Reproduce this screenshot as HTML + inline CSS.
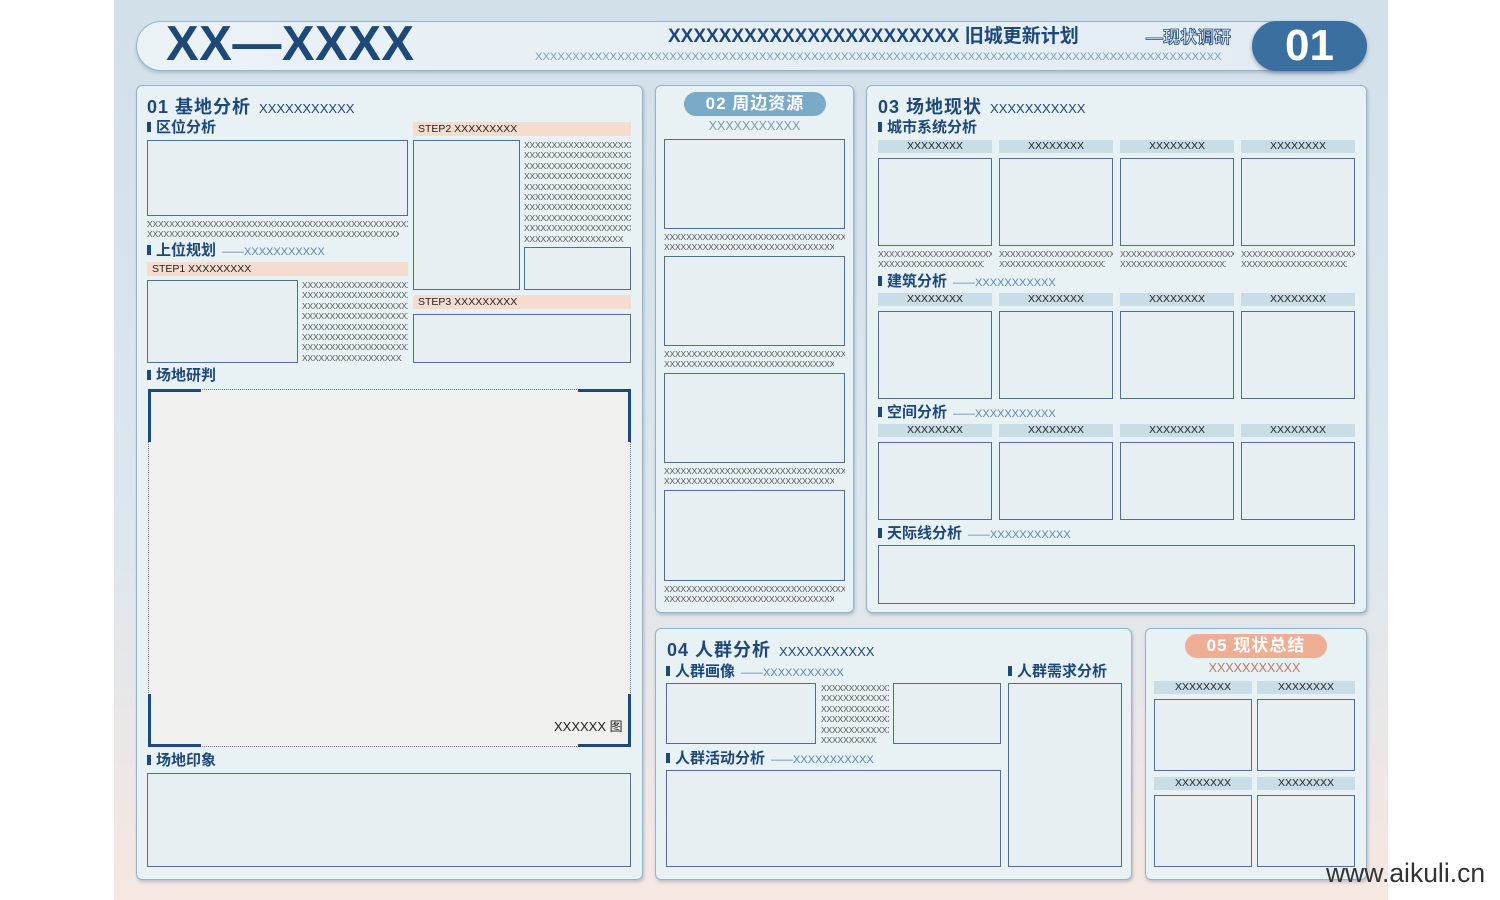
<!DOCTYPE html>
<html><head><meta charset="utf-8">
<style>
*{margin:0;padding:0;box-sizing:border-box}
body{width:1500px;height:900px;background:#fff;position:relative;overflow:hidden;font-family:"Liberation Sans","Noto Sans CJK SC",sans-serif}
.a{position:absolute}
.bg{left:114px;top:0;width:1274px;height:900px;background:linear-gradient(#d2e0ea,#dde7ee 60%,#f6e7e1)}
.p{position:absolute;background:#e8f1f4;border:1.5px solid #93b4c8;border-radius:6px;box-shadow:1px 2px 3px rgba(80,110,140,.35)}
.b{position:absolute;background:#e7eff3;border:1.3px solid #4f6f8d}
.h{position:absolute;font-weight:bold;color:#1e4878;font-size:15px;white-space:nowrap;line-height:16px}
.h:before{content:"";display:inline-block;width:4px;height:10px;background:#1e4878;margin-right:5px;vertical-align:0px}
.h span{font-weight:normal;color:#5a86b0;font-size:11px;margin-left:6px}
.st{position:absolute;background:#f6dccf;font-size:10.5px;color:#222;line-height:14px;padding-left:5px;white-space:nowrap}
.t{position:absolute;font-size:8.5px;line-height:10.4px;color:#555;overflow:hidden;white-space:nowrap;letter-spacing:-.15px}
.t div{overflow:hidden}
.ch{position:absolute;background:#c9dde6;font-size:10.5px;line-height:13px;text-align:center;color:#222}
.tt{position:absolute;font-weight:bold;color:#1e4878;font-size:18px;white-space:nowrap;letter-spacing:1px}
.tt span{font-weight:normal;font-size:13px;margin-left:8px;letter-spacing:0}
</style></head><body>
<div class="a bg"></div>

<!-- header -->
<div class="a" style="left:136px;top:21px;width:1200px;height:50px;background:linear-gradient(90deg,#eaf2f6,#e2ecf2);border:1.5px solid #93b4c8;border-radius:25px 0 0 25px;box-shadow:0 2px 3px rgba(80,110,140,.3)"></div>
<div class="a" style="left:166px;top:14px;font-size:49px;font-weight:bold;color:#1e4878;line-height:60px;letter-spacing:0.5px">XX—XXXX</div>
<div class="a" style="left:668px;top:26px;font-size:19px;font-weight:bold;color:#1e4878;white-space:nowrap;line-height:22px">XXXXXXXXXXXXXXXXXXXXXXX 旧城更新计划</div>
<div class="a" style="left:1146px;top:27px;font-size:17px;color:#e8f1f4;-webkit-text-stroke:0.8px #1e4878;font-weight:bold;white-space:nowrap;line-height:22px">—现状调研</div>
<div class="a" style="left:535px;top:50px;width:700px;overflow:hidden;font-size:11.2px;color:#7aa0bc;white-space:nowrap;line-height:14px">XXXXXXXXXXXXXXXXXXXXXXXXXXXXXXXXXXXXXXXXXXXXXXXXXXXXXXXXXXXXXXXXXXXXXXXXXXXXXXXXXXXXXXXXXXXX</div>
<div class="a" style="left:1252px;top:21px;width:115px;height:50px;background:#3a6fa0;border-radius:25px;box-shadow:0 2px 4px rgba(30,60,100,.4);color:#fff;font-size:44px;font-weight:bold;text-align:center;line-height:50px">01</div>

<!-- panel 1 -->
<div class="p" style="left:136px;top:85px;width:507px;height:795px"></div>
<div class="tt" style="left:147px;top:93px">01 基地分析<span>XXXXXXXXXXX</span></div>
<div class="h" style="left:147px;top:120px">区位分析</div>
<div class="b" style="left:147px;top:140px;width:261px;height:76px"></div>
<div class="t" style="left:147px;top:219px;width:261px"><div>XXXXXXXXXXXXXXXXXXXXXXXXXXXXXXXXXXXXXXXXXXXXXXXXXXXXX</div><div style="width:252px">XXXXXXXXXXXXXXXXXXXXXXXXXXXXXXXXXXXXXXXXXXXXXXXXXX</div></div>
<div class="h" style="left:147px;top:243px">上位规划<span>——XXXXXXXXXXX</span></div>
<div class="st" style="left:147px;top:262px;width:261px">STEP1 XXXXXXXXX</div>
<div class="b" style="left:147px;top:280px;width:151px;height:83px"></div>
<div class="t" style="left:302px;top:280px;width:106px"><div>XXXXXXXXXXXXXXXXXXXXXX</div><div>XXXXXXXXXXXXXXXXXXXXXX</div><div>XXXXXXXXXXXXXXXXXXXXXX</div><div>XXXXXXXXXXXXXXXXXXXXXX</div><div>XXXXXXXXXXXXXXXXXXXXXX</div><div>XXXXXXXXXXXXXXXXXXXXXX</div><div>XXXXXXXXXXXXXXXXXXXXXX</div><div style="width:100px">XXXXXXXXXXXXXXXXXXXXXX</div></div>
<div class="st" style="left:413px;top:122px;width:218px">STEP2 XXXXXXXXX</div>
<div class="b" style="left:413px;top:140px;width:107px;height:150px"></div>
<div class="t" style="left:524px;top:140px;width:107px"><div>XXXXXXXXXXXXXXXXXXXXXX</div><div>XXXXXXXXXXXXXXXXXXXXXX</div><div>XXXXXXXXXXXXXXXXXXXXXX</div><div>XXXXXXXXXXXXXXXXXXXXXX</div><div>XXXXXXXXXXXXXXXXXXXXXX</div><div>XXXXXXXXXXXXXXXXXXXXXX</div><div>XXXXXXXXXXXXXXXXXXXXXX</div><div>XXXXXXXXXXXXXXXXXXXXXX</div><div>XXXXXXXXXXXXXXXXXXXXXX</div><div style="width:100px">XXXXXXXXXXXXXXXXXXXXXX</div></div>
<div class="b" style="left:524px;top:247px;width:107px;height:43px"></div>
<div class="st" style="left:413px;top:295px;width:218px">STEP3 XXXXXXXXX</div>
<div class="b" style="left:413px;top:314px;width:218px;height:49px"></div>
<div class="h" style="left:147px;top:368px">场地研判</div>
<div class="a" style="left:148px;top:389px;width:483px;height:358px;background:#f0f0ee;border:1.2px dotted #5a7590"></div>
<div class="a" style="left:148px;top:389px;width:53px;height:53px;border-left:3px solid #1e4878;border-top:3px solid #1e4878"></div>
<div class="a" style="left:578px;top:389px;width:53px;height:53px;border-right:3px solid #1e4878;border-top:3px solid #1e4878"></div>
<div class="a" style="left:148px;top:694px;width:53px;height:53px;border-left:3px solid #1e4878;border-bottom:3px solid #1e4878"></div>
<div class="a" style="left:578px;top:694px;width:53px;height:53px;border-right:3px solid #1e4878;border-bottom:3px solid #1e4878"></div>
<div class="a" style="left:554px;top:716px;font-size:13px;color:#222;white-space:nowrap">XXXXXX 图</div>
<div class="h" style="left:147px;top:753px">场地印象</div>
<div class="b" style="left:147px;top:773px;width:484px;height:94px"></div>

<!-- panel 2 -->
<div class="p" style="left:655px;top:85px;width:199px;height:528px"></div>
<div class="a" style="left:684px;top:92px;width:142px;height:24px;background:#7aaac8;border-radius:12px;color:#fff;font-weight:bold;font-size:17px;text-align:center;line-height:24px;letter-spacing:1px">02 周边资源</div>
<div class="a" style="left:664px;top:119px;width:181px;text-align:center;font-size:12.5px;color:#7d9db2">XXXXXXXXXXX</div>
<div class="b" style="left:664px;top:139px;width:181px;height:90px"></div>
<div class="t" style="left:664px;top:232px;width:181px"><div>XXXXXXXXXXXXXXXXXXXXXXXXXXXXXXXXXXXXXX</div><div style="width:170px">XXXXXXXXXXXXXXXXXXXXXXXXXXXXXXXXXXXXX</div></div>
<div class="b" style="left:664px;top:256px;width:181px;height:90px"></div>
<div class="t" style="left:664px;top:349px;width:181px"><div>XXXXXXXXXXXXXXXXXXXXXXXXXXXXXXXXXXXXXX</div><div style="width:170px">XXXXXXXXXXXXXXXXXXXXXXXXXXXXXXXXXXXXX</div></div>
<div class="b" style="left:664px;top:373px;width:181px;height:90px"></div>
<div class="t" style="left:664px;top:466px;width:181px"><div>XXXXXXXXXXXXXXXXXXXXXXXXXXXXXXXXXXXXXX</div><div style="width:170px">XXXXXXXXXXXXXXXXXXXXXXXXXXXXXXXXXXXXX</div></div>
<div class="b" style="left:664px;top:490px;width:181px;height:91px"></div>
<div class="t" style="left:664px;top:584px;width:181px"><div>XXXXXXXXXXXXXXXXXXXXXXXXXXXXXXXXXXXXXX</div><div style="width:170px">XXXXXXXXXXXXXXXXXXXXXXXXXXXXXXXXXXXXX</div></div>

<!-- panel 3 -->
<div class="p" style="left:866px;top:85px;width:501px;height:528px"></div>
<div class="tt" style="left:878px;top:93px">03 场地现状<span>XXXXXXXXXXX</span></div>
<div class="h" style="left:878px;top:120px">城市系统分析</div>
<div class="ch" style="left:878px;top:140px;width:114px">XXXXXXXX</div>
<div class="ch" style="left:999px;top:140px;width:114px">XXXXXXXX</div>
<div class="ch" style="left:1120px;top:140px;width:114px">XXXXXXXX</div>
<div class="ch" style="left:1241px;top:140px;width:114px">XXXXXXXX</div>
<div class="b" style="left:878px;top:158px;width:114px;height:88px"></div>
<div class="b" style="left:999px;top:158px;width:114px;height:88px"></div>
<div class="b" style="left:1120px;top:158px;width:114px;height:88px"></div>
<div class="b" style="left:1241px;top:158px;width:114px;height:88px"></div>
<div class="t" style="left:878px;top:249px;width:114px"><div>XXXXXXXXXXXXXXXXXXXXXXXX</div><div style="width:106px">XXXXXXXXXXXXXXXXXXXXXXXX</div></div>
<div class="t" style="left:999px;top:249px;width:114px"><div>XXXXXXXXXXXXXXXXXXXXXXXX</div><div style="width:106px">XXXXXXXXXXXXXXXXXXXXXXXX</div></div>
<div class="t" style="left:1120px;top:249px;width:114px"><div>XXXXXXXXXXXXXXXXXXXXXXXX</div><div style="width:106px">XXXXXXXXXXXXXXXXXXXXXXXX</div></div>
<div class="t" style="left:1241px;top:249px;width:114px"><div>XXXXXXXXXXXXXXXXXXXXXXXX</div><div style="width:106px">XXXXXXXXXXXXXXXXXXXXXXXX</div></div>
<div class="h" style="left:878px;top:274px">建筑分析<span>——XXXXXXXXXXX</span></div>
<div class="ch" style="left:878px;top:293px;width:114px">XXXXXXXX</div>
<div class="ch" style="left:999px;top:293px;width:114px">XXXXXXXX</div>
<div class="ch" style="left:1120px;top:293px;width:114px">XXXXXXXX</div>
<div class="ch" style="left:1241px;top:293px;width:114px">XXXXXXXX</div>
<div class="b" style="left:878px;top:311px;width:114px;height:88px"></div>
<div class="b" style="left:999px;top:311px;width:114px;height:88px"></div>
<div class="b" style="left:1120px;top:311px;width:114px;height:88px"></div>
<div class="b" style="left:1241px;top:311px;width:114px;height:88px"></div>
<div class="h" style="left:878px;top:405px">空间分析<span>——XXXXXXXXXXX</span></div>
<div class="ch" style="left:878px;top:424px;width:114px">XXXXXXXX</div>
<div class="ch" style="left:999px;top:424px;width:114px">XXXXXXXX</div>
<div class="ch" style="left:1120px;top:424px;width:114px">XXXXXXXX</div>
<div class="ch" style="left:1241px;top:424px;width:114px">XXXXXXXX</div>
<div class="b" style="left:878px;top:442px;width:114px;height:78px"></div>
<div class="b" style="left:999px;top:442px;width:114px;height:78px"></div>
<div class="b" style="left:1120px;top:442px;width:114px;height:78px"></div>
<div class="b" style="left:1241px;top:442px;width:114px;height:78px"></div>
<div class="h" style="left:878px;top:526px">天际线分析<span>——XXXXXXXXXXX</span></div>
<div class="b" style="left:878px;top:545px;width:477px;height:59px"></div>

<!-- panel 4 -->
<div class="p" style="left:655px;top:628px;width:477px;height:252px"></div>
<div class="tt" style="left:667px;top:636px">04 人群分析<span>XXXXXXXXXXX</span></div>
<div class="h" style="left:666px;top:664px">人群画像<span>——XXXXXXXXXXX</span></div>
<div class="b" style="left:666px;top:683px;width:150px;height:61px"></div>
<div class="t" style="left:821px;top:683px;width:68px"><div>XXXXXXXXXXXXXX</div><div>XXXXXXXXXXXXXX</div><div>XXXXXXXXXXXXXX</div><div>XXXXXXXXXXXXXX</div><div>XXXXXXXXXXXXXX</div><div style="width:56px">XXXXXXXXXXXXXX</div></div>
<div class="b" style="left:893px;top:683px;width:108px;height:61px"></div>
<div class="h" style="left:1008px;top:664px">人群需求分析</div>
<div class="b" style="left:1008px;top:683px;width:114px;height:184px"></div>
<div class="h" style="left:666px;top:751px">人群活动分析<span>——XXXXXXXXXXX</span></div>
<div class="b" style="left:666px;top:770px;width:335px;height:97px"></div>

<!-- panel 5 -->
<div class="p" style="left:1145px;top:628px;width:222px;height:252px"></div>
<div class="a" style="left:1185px;top:634px;width:142px;height:24px;background:#eeae94;border-radius:12px;color:#fff;font-weight:bold;font-size:17px;text-align:center;line-height:24px;letter-spacing:1px">05 现状总结</div>
<div class="a" style="left:1154px;top:661px;width:201px;text-align:center;font-size:12.5px;color:#c07868">XXXXXXXXXXX</div>
<div class="ch" style="left:1154px;top:681px;width:98px">XXXXXXXX</div>
<div class="ch" style="left:1257px;top:681px;width:98px">XXXXXXXX</div>
<div class="b" style="left:1154px;top:699px;width:98px;height:72px"></div>
<div class="b" style="left:1257px;top:699px;width:98px;height:72px"></div>
<div class="ch" style="left:1154px;top:777px;width:98px">XXXXXXXX</div>
<div class="ch" style="left:1257px;top:777px;width:98px">XXXXXXXX</div>
<div class="b" style="left:1154px;top:795px;width:98px;height:72px"></div>
<div class="b" style="left:1257px;top:795px;width:98px;height:72px"></div>

<div class="a" style="left:1326px;top:857px;font-size:26.5px;color:#333;white-space:nowrap;line-height:32px">www.aikuli.cn</div>
</body></html>
